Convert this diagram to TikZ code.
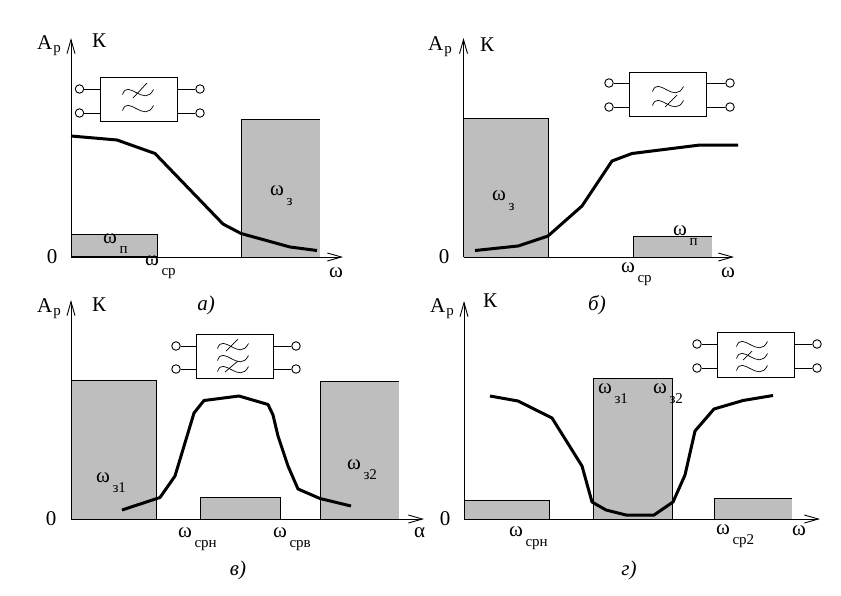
\documentclass[tikz,border=0pt]{standalone}
\usepackage{fontspec}
\setmainfont{Liberation Serif}
\usepackage{tikz}
\usetikzlibrary{arrows.meta,positioning}

\definecolor{zonegray}{RGB}{190,190,190}
\newcommand{\omsub}[1]{ω\kern2.5pt\raisebox{-10pt}{\fontsize{15}{15}\selectfont #1}}
\newcommand{\apsub}{А\kern1pt\raisebox{-3pt}{\fontsize{15}{15}\selectfont р}}
\newcommand{\wave}[2]{\draw[waveline,shift={(#1,#2)}] (-15.5,3.5) .. controls (-10,-13) and (6,17) .. (15.5,-1.5);}
\tikzset{
	lbl/.style={anchor=base west,inner sep=0pt,font=\fontsize{21}{23}\selectfont},
	tag/.style={inner sep=0pt,font=\fontsize{21}{23}\selectfont\itshape},
	axis/.style={line width=0.9pt,-{Straight Barb[length=14pt,width=8pt]}},
	zone/.style={fill=zonegray,draw=none},
	edgeline/.style={line width=0.9pt},
	curveline/.style={line width=3pt,line join=round},
	fbox/.style={shape=rectangle,draw,line width=0.9pt,minimum width=77pt,minimum height=44.5pt,inner sep=0pt},
	term/.style={shape=circle,draw,line width=0.9pt,minimum size=8.5pt,inner sep=0pt},
	waveline/.style={line width=0.7pt}
}

\begin{document}
\begin{tikzpicture}[x=1pt,y=-1pt]
	\useasboundingbox (0,0) rectangle (841,595);

	% a
	\fill[zone] (71,234) rectangle (157.5,257);
	\fill[zone] (241.5,119) rectangle (320,257);
	\draw[edgeline] (71,234) -- (157.5,234) -- (157.5,257);
	\draw[edgeline] (241.5,257) -- (241.5,119) -- (320,119);
	\draw[line width=1.6pt] (71,257) -- (157.5,257);
	\coordinate (o1) at (71,257);
	\coordinate (y1) at (71,38);
	\coordinate (x1) at (343,257);
	\draw[axis] (o1) -- (y1);
	\draw[axis] (o1) -- (x1);
	\draw[curveline] (71,136) -- (117,140) -- (155,153.5) -- (223,224) -- (241,233.5) -- (290,247) -- (317,250.5);
	\node[fbox] (box1) at (138.5,99.5) {};
	\node[term] (t1) at (79.5,89) {};
	\node[term] (t2) at (79.5,113) {};
	\node[term] (t3) at (200,89) {};
	\node[term] (t4) at (200,113) {};
	\path [-] (t1) edge[edgeline] (t1 -| box1.west);
	\path [-] (t2) edge[edgeline] (t2 -| box1.west);
	\path [-] (t3) edge[edgeline] (t3 -| box1.east);
	\path [-] (t4) edge[edgeline] (t4 -| box1.east);
	\wave{138}{91}
	\wave{138}{107}
	\draw[waveline] (133,98) -- (147,83);
	\node[lbl] (ap1) at (37,49) {\apsub};
	\node[lbl] (k1) at (92,47) {К};
	\node[lbl,anchor=center] (n1) at (52,257) {0};
	\node[lbl] (wp1) at (103,243) {\omsub{п}};
	\node[lbl] (wc1) at (145,265) {\omsub{ср}};
	\node[lbl] (wz1) at (270,195) {\omsub{з}};
	\node[lbl] (w1) at (329,277) {ω};
	\node[tag] (tag1) at (206,305) {а)};

	% b
	\fill[zone] (463.5,118) rectangle (548.5,257);
	\fill[zone] (633.5,236) rectangle (712,257);
	\draw[edgeline] (463.5,118) -- (548.5,118) -- (548.5,257);
	\draw[edgeline] (633.5,257) -- (633.5,236) -- (712,236);
	\coordinate (o2) at (463.5,257);
	\coordinate (y2) at (463.5,38);
	\coordinate (x2) at (734,257);
	\draw[axis] (o2) -- (y2);
	\draw[axis] (o2) -- (x2);
	\draw[curveline] (475,250.5) -- (518,246) -- (548,236) -- (582,206) -- (612,161) -- (632,153.5) -- (700,145) -- (738,145);
	\node[fbox] (box2) at (668,94.5) {};
	\node[term] (t5) at (609,83) {};
	\node[term] (t6) at (609,107) {};
	\node[term] (t7) at (730,83) {};
	\node[term] (t8) at (730,107) {};
	\path [-] (t5) edge[edgeline] (t5 -| box2.west);
	\path [-] (t6) edge[edgeline] (t6 -| box2.west);
	\path [-] (t7) edge[edgeline] (t7 -| box2.east);
	\path [-] (t8) edge[edgeline] (t8 -| box2.east);
	\wave{668}{88}
	\wave{668}{102}
	\draw[waveline] (665,107) -- (677,95);
	\node[lbl] (ap2) at (428,50) {\apsub};
	\node[lbl] (k2) at (480,51) {К};
	\node[lbl,anchor=center] (n2) at (444,257) {0};
	\node[lbl] (wz2) at (492,200) {\omsub{з}};
	\node[lbl] (wp2) at (673,235) {\omsub{п}};
	\node[lbl] (wc2) at (621,272) {\omsub{ср}};
	\node[lbl] (w2) at (721,277) {ω};
	\node[tag] (tag2) at (597,305) {б)};

	% c
	\fill[zone] (71,380) rectangle (156,519);
	\fill[zone] (200.5,497) rectangle (280,519);
	\fill[zone] (320.5,381) rectangle (398.5,519);
	\draw[edgeline] (71,380) -- (156,380) -- (156,519);
	\draw[edgeline] (200.5,519) -- (200.5,497) -- (280,497) -- (280,519);
	\draw[edgeline] (320.5,519) -- (320.5,381) -- (398.5,381);
	\coordinate (o3) at (71,519);
	\coordinate (y3) at (71,300);
	\coordinate (x3) at (424,519);
	\draw[axis] (o3) -- (y3);
	\draw[axis] (o3) -- (x3);
	\draw[curveline] (122,510) -- (160,497.5) -- (175,476) -- (194,413) -- (204,400.5) -- (239,396) -- (268,404.5) -- (273,415) -- (278,436) -- (288,466) -- (298,489) -- (320,498.5) -- (351,506);
	\node[fbox] (box3) at (235,356.5) {};
	\node[term] (t9) at (176,346) {};
	\node[term] (t10) at (176,369) {};
	\node[term] (t11) at (296,346) {};
	\node[term] (t12) at (296,369) {};
	\path [-] (t9) edge[edgeline] (t9 -| box3.west);
	\path [-] (t10) edge[edgeline] (t10 -| box3.west);
	\path [-] (t11) edge[edgeline] (t11 -| box3.east);
	\path [-] (t12) edge[edgeline] (t12 -| box3.east);
	\wave{233}{345}
	\wave{233}{357}
	\wave{233}{368}
	\draw[waveline] (226,351) -- (238,339);
	\draw[waveline] (225,372) -- (238,361);
	\node[lbl] (ap3) at (37,312) {\apsub};
	\node[lbl] (k3) at (92,311) {К};
	\node[lbl,anchor=center] (n3) at (51,519) {0};
	\node[lbl] (wz3) at (96,482) {\omsub{з1}};
	\node[lbl] (wz4) at (347,469) {\omsub{з2}};
	\node[lbl] (wc3) at (178,537) {\omsub{срн}};
	\node[lbl] (wc4) at (273,537) {\omsub{срв}};
	\node[lbl] (w3) at (414,537) {α};
	\node[tag] (tag3) at (238,570) {в)};

	% d
	\fill[zone] (464,500) rectangle (549.5,519);
	\fill[zone] (593,378) rectangle (672.5,519);
	\fill[zone] (714,498) rectangle (792,519);
	\draw[edgeline] (464,500) -- (549.5,500) -- (549.5,519);
	\draw[edgeline] (593,519) -- (593,378) -- (672.5,378) -- (672.5,519);
	\draw[edgeline] (714,519) -- (714,498) -- (792,498);
	\coordinate (o4) at (464,519);
	\coordinate (y4) at (464,301);
	\coordinate (x4) at (820,519);
	\draw[axis] (o4) -- (y4);
	\draw[axis] (o4) -- (x4);
	\draw[curveline] (490,396) -- (518,401) -- (552,418) -- (582,466) -- (592,502) -- (606,510) -- (626,515) -- (654,515) -- (673,502) -- (685,475) -- (695,431) -- (714,409) -- (743,400.5) -- (773,395.5);
	\node[fbox] (box4) at (755.5,355) {};
	\node[term] (t13) at (697,344) {};
	\node[term] (t14) at (697,368) {};
	\node[term] (t15) at (817,344) {};
	\node[term] (t16) at (817,368) {};
	\path [-] (t13) edge[edgeline] (t13 -| box4.west);
	\path [-] (t14) edge[edgeline] (t14 -| box4.west);
	\path [-] (t15) edge[edgeline] (t15 -| box4.east);
	\path [-] (t16) edge[edgeline] (t16 -| box4.east);
	\wave{752}{343}
	\wave{752}{355}
	\wave{752}{367}
	\draw[waveline] (743,360) -- (752,351);
	\node[lbl] (ap4) at (430,312) {\apsub};
	\node[lbl] (k4) at (483,307) {К};
	\node[lbl,anchor=center] (n4) at (445,519) {0};
	\node[lbl] (wz5) at (598,393) {\omsub{з1}};
	\node[lbl] (wz6) at (653,393) {\omsub{з2}};
	\node[lbl] (wc5) at (509,536) {\omsub{срн}};
	\node[lbl] (wc6) at (716,534) {\omsub{ср2}};
	\node[lbl] (w4) at (792,535) {ω};
	\node[tag] (tag4) at (629,570) {г)};
\end{tikzpicture}
\end{document}
